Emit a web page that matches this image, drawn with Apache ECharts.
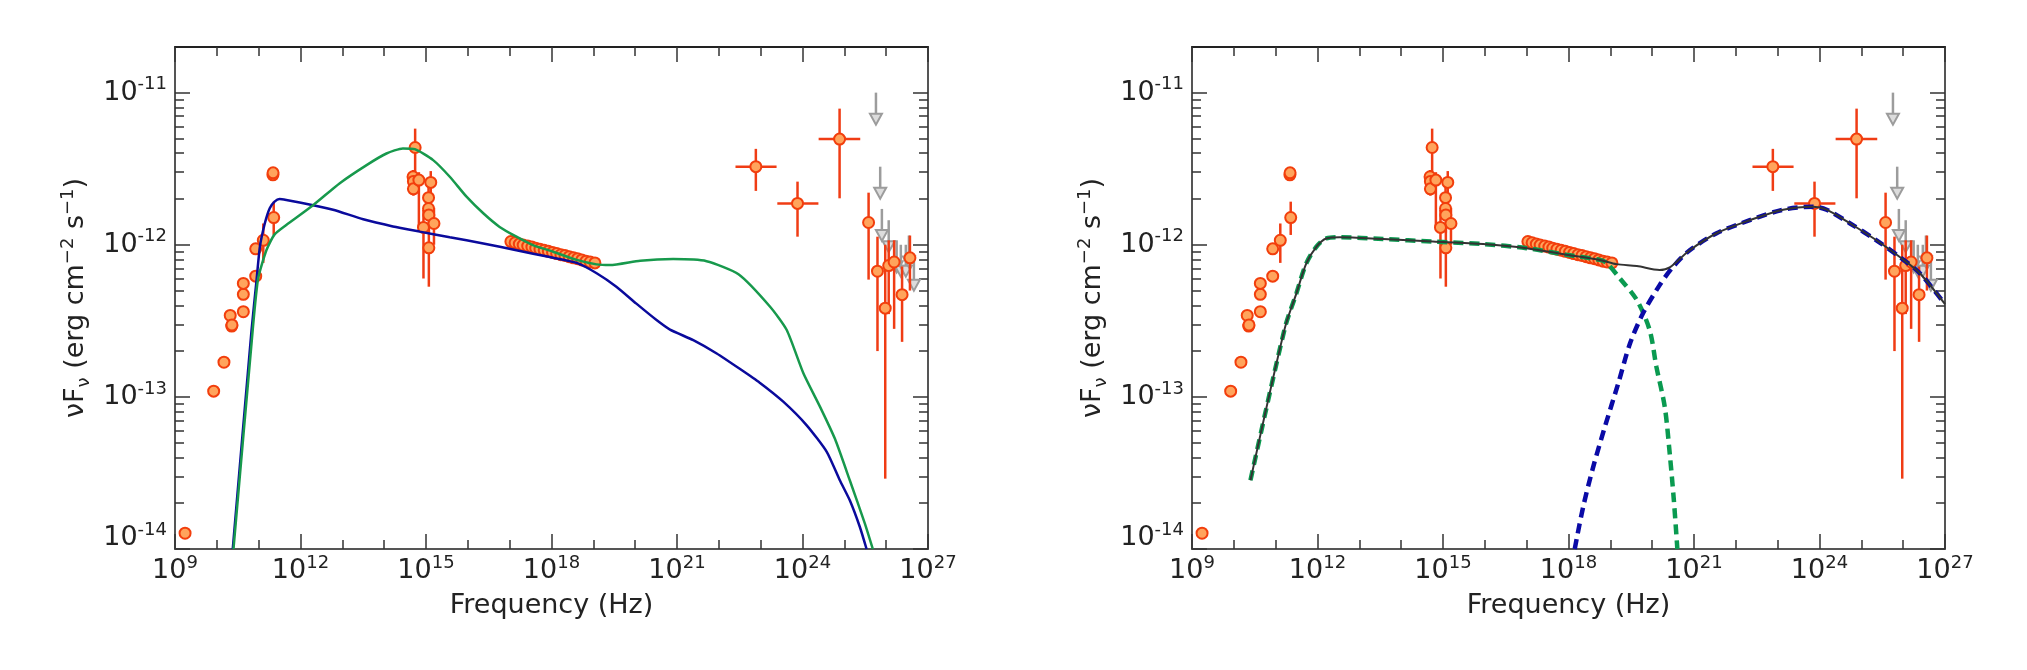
<!DOCTYPE html>
<html><head><meta charset="utf-8">
<script src="https://cdn.jsdelivr.net/npm/echarts@6/dist/echarts.min.js"></script>
<style>html,body{margin:0;padding:0;background:#fff}#c{width:2027px;height:670px}</style>
</head><body><div id="c"></div>
<script>
// ---------------- DATA ----------------
const xTickExponents = [9, 12, 15, 18, 21, 24, 27];
const yTickExponents = [-14, -13, -12, -11];

// radio / mm / IR points
const radioNu  = [1.74e9, 8.4e9, 1.48e10, 2.09e10, 2.27e10, 2.3e10, 4.3e10, 4.3e10, 4.3e10, 8.5e10, 8.5e10, 1.29e11, 2.29e11, 2.19e11, 2.21e11];
const radioF   = [1.27e-14, 1.09e-13, 1.69e-13, 3.43e-13, 2.92e-13, 2.97e-13, 3.63e-13, 4.72e-13, 5.57e-13, 6.22e-13, 9.4e-13, 1.07e-12, 1.51e-12, 2.88e-12, 2.97e-12];
const radioFlo = [1.17e-14, 1.01e-13, 1.57e-13, 3.2e-13, 2.72e-13, 2.77e-13, 3.38e-13, 4.4e-13, 5.2e-13, 5.8e-13, 8.8e-13, 7.6e-13, 1.16e-12, 2.7e-12, 2.8e-12];
const radioFhi = [1.38e-14, 1.17e-13, 1.82e-13, 3.68e-13, 3.13e-13, 3.18e-13, 3.9e-13, 5.05e-13, 5.95e-13, 6.65e-13, 1.0e-12, 1.38e-12, 1.92e-12, 3.07e-12, 3.15e-12];

// optical / UV points
const optNu  = [5.5e14, 4.9e14, 5.0e14, 5.0e14, 6.76e14, 1.30e15, 1.15e15, 1.15e15, 1.17e15, 1.55e15, 8.7e14, 1.17e15];
const optF   = [4.36e-12, 2.8e-12, 2.61e-12, 2.33e-12, 2.66e-12, 2.57e-12, 2.04e-12, 1.73e-12, 1.57e-12, 1.38e-12, 1.30e-12, 9.55e-13];
const optFlo = [2.4e-12, 2.5e-12, 2.35e-12, 2.1e-12, 1.3e-12, 1.9e-12, 1.7e-12, 1.45e-12, 1.2e-12, 1.0e-12, 6.0e-13, 5.3e-13];
const optFhi = [5.8e-12, 3.1e-12, 2.9e-12, 2.6e-12, 3.0e-12, 3.05e-12, 2.45e-12, 2.05e-12, 1.9e-12, 1.75e-12, 1.7e-12, 1.3e-12];

// X-ray spectrum points
const xrayNu  = [1.07e17, 1.35e17, 1.7e17, 2.1e17, 2.7e17, 3.4e17, 4.2e17, 5.3e17, 6.7e17, 8.4e17, 1.06e18, 1.33e18, 1.68e18, 2.1e18, 2.65e18, 3.35e18, 4.2e18, 5.3e18, 6.7e18, 8.4e18, 1.09e19];
const xrayF   = [1.05e-12, 1.03e-12, 1.01e-12, 9.95e-13, 9.8e-13, 9.65e-13, 9.5e-13, 9.35e-13, 9.2e-13, 9.05e-13, 8.9e-13, 8.75e-13, 8.6e-13, 8.5e-13, 8.35e-13, 8.2e-13, 8.1e-13, 7.95e-13, 7.8e-13, 7.7e-13, 7.6e-13];
const xrayFlo = [null, null, null, null, null, null, null, null, null, null, null, null, null, null, 7.8e-13, 7.65e-13, 7.55e-13, 7.4e-13, 7.25e-13, 7.15e-13, 7.05e-13];
const xrayFhi = [null, null, null, null, null, null, null, null, null, null, null, null, null, null, 8.9e-13, 8.75e-13, 8.65e-13, 8.5e-13, 8.35e-13, 8.25e-13, 8.15e-13];

// GeV points (with frequency bins)
const fermiNu   = [7.67e22, 7.6e23, 7.7e24];
const fermiNuLo = [2.5e22, 2.5e23, 2.43e24];
const fermiNuHi = [2.4e23, 2.4e24, 2.4e25];
const fermiF    = [3.26e-12, 1.87e-12, 4.95e-12];
const fermiFlo  = [2.26e-12, 1.13e-12, 2.02e-12];
const fermiFhi  = [4.27e-12, 2.6e-12, 7.85e-12];

// TeV points
const tevNu  = [3.8e25, 6.2e25, 9.5e25, 1.15e26, 1.55e26, 2.4e26, 3.7e26];
const tevF   = [1.40e-12, 6.7e-13, 3.83e-13, 7.3e-13, 7.7e-13, 4.7e-13, 8.2e-13];
const tevFlo = [5.9e-13, 2.0e-13, 2.9e-14, 3.5e-13, 2.8e-13, 2.3e-13, 5.0e-13];
const tevFhi = [2.2e-12, 1.13e-12, 1.0e-12, 1.07e-12, 1.07e-12, 7.2e-13, 1.15e-12];

// TeV upper limits
const ulNu = [5.7e25, 7.2e25, 7.9e25, 1.15e26, 1.78e26, 2.24e26, 2.95e26, 3.5e26, 4.6e26];
const ulF  = [1.0e-11, 3.26e-12, 1.72e-12, 1.45e-12, 1.07e-12, 1.0e-12, 1.0e-12, 1.15e-12, 8.1e-13];

// left panel models
const blueNu = [2.4e10, 6.76e10, 8.9e10, 1.07e11, 1.40e11, 1.84e11, 2.40e11, 3.16e11, 4.57e11, 2.0e12, 6.0e12, 3.16e13, 1.62e14, 7.1e14, 3.7e15, 2.34e16, 1.45e17, 9.1e17, 4.0e18, 1.2e19, 3.55e19, 1.07e20, 3.24e20, 6.8e20, 2.45e21, 8.9e21, 3.16e22, 9.5e22, 3.47e23, 1.26e24, 3.8e24, 7.8e24, 1.35e25, 2.34e25, 3.4e25];
const blueF  = [1.0e-14, 2.75e-13, 5.86e-13, 9.7e-13, 1.38e-12, 1.74e-12, 1.92e-12, 2.0e-12, 1.97e-12, 1.82e-12, 1.70e-12, 1.47e-12, 1.32e-12, 1.22e-12, 1.12e-12, 1.02e-12, 9.2e-13, 8.3e-13, 7.6e-13, 6.5e-13, 5.3e-13, 4.1e-13, 3.2e-13, 2.77e-13, 2.36e-13, 1.93e-13, 1.53e-13, 1.24e-13, 9.3e-14, 6.5e-14, 4.35e-14, 2.83e-14, 2.09e-14, 1.40e-14, 1.0e-14];
const greenNu = [2.5e10, 7.2e10, 9.7e10, 1.53e11, 2.4e11, 4.57e11, 2.0e12, 8.7e12, 3.8e13, 1.135e14, 2.8e14, 5.4e14, 1.48e15, 3.7e15, 9.3e15, 2.34e16, 5.75e16, 1.45e17, 3.6e17, 1.1e18, 4.0e18, 1.2e19, 2.5e19, 1.32e20, 8.1e20, 5.1e21, 2.95e22, 1.7e23, 4.2e23, 1.05e24, 2.63e24, 5.96e24, 1.35e25, 3.1e25, 4.8e25];
const greenF  = [1.0e-14, 2.75e-13, 6.0e-13, 9.2e-13, 1.17e-12, 1.35e-12, 1.82e-12, 2.54e-12, 3.34e-12, 3.98e-12, 4.3e-12, 4.25e-12, 3.6e-12, 2.8e-12, 2.07e-12, 1.61e-12, 1.31e-12, 1.13e-12, 9.95e-13, 9.0e-13, 7.95e-13, 7.43e-13, 7.35e-13, 7.85e-13, 8.05e-13, 7.8e-13, 6.4e-13, 3.9e-13, 2.75e-13, 1.43e-13, 8.6e-14, 5.3e-14, 2.83e-14, 1.47e-14, 1.0e-14];

// right panel models
const totalNu = [2.5e10, 1.65e11, 3.13e11, 5.4e11, 9.4e11, 1.62e12, 3.4e12, 3.7e13, 5.75e14, 9.1e15, 9.9e16, 8.9e17, 5.6e18, 1.41e19, 4.3e19, 1.51e20, 2.63e20, 7.9e20, 3.47e21, 2.16e22, 1.35e23, 7.1e23, 1.48e24, 5.4e24, 2.3e25, 8.3e25, 2.5e26, 1e27];
const totalF  = [2.83e-14, 2.82e-13, 4.79e-13, 7.55e-13, 9.7e-13, 1.10e-12, 1.12e-12, 1.09e-12, 1.05e-12, 1.01e-12, 9.5e-13, 8.6e-13, 7.95e-13, 7.46e-13, 7.24e-13, 6.82e-13, 7.1e-13, 9.2e-13, 1.19e-12, 1.45e-12, 1.70e-12, 1.78e-12, 1.70e-12, 1.38e-12, 1.07e-12, 8.3e-13, 6.5e-13, 4.07e-13];
const syncNu = [2.5e10, 1.65e11, 3.13e11, 5.4e11, 9.4e11, 1.62e12, 3.4e12, 3.7e13, 5.75e14, 9.1e15, 9.9e16, 8.9e17, 5.6e18, 8.1e18, 1.7e19, 4.3e19, 8.7e19, 1.26e20, 2.0e20, 2.63e20, 3.3e20, 4.0e20];
const syncF  = [2.83e-14, 2.82e-13, 4.79e-13, 7.55e-13, 9.7e-13, 1.10e-12, 1.12e-12, 1.09e-12, 1.05e-12, 1.01e-12, 9.5e-13, 8.6e-13, 7.95e-13, 7.6e-13, 6.0e-13, 4.33e-13, 2.75e-13, 1.58e-13, 8.6e-14, 4.24e-14, 2.09e-14, 1.0e-14];
const icNu = [1.41e18, 2.24e18, 3.9e18, 7.4e18, 1.55e19, 2.95e19, 6.0e19, 1.51e20, 3.16e20, 7.9e20, 3.47e21, 2.16e22, 1.35e23, 7.1e23, 1.48e24, 5.4e24, 2.3e25, 8.3e25, 2.5e26, 1e27];
const icF  = [1.0e-14, 1.89e-14, 3.47e-14, 6.35e-14, 1.23e-13, 2.24e-13, 3.53e-13, 5.43e-13, 7.16e-13, 9.2e-13, 1.19e-12, 1.45e-12, 1.70e-12, 1.78e-12, 1.70e-12, 1.38e-12, 1.07e-12, 8.3e-13, 6.5e-13, 4.07e-13];

// ---------------- BUILD ----------------
const L = Math.log10;
const FONT = 'DejaVu Sans';
const TXT = '#222';
const pairs = (a, b) => a.map((v, i) => [L(v), L(b[i])]);

const yMinor = [];
yTickExponents.forEach(n => { for (let k = 2; k <= 9; k++) { const v = n + L(k); if (v < -10.7) yMinor.push(v); } });

const gridL = { left: 175, top: 47, width: 753, height: 502 };
const gridR = { left: 1192, top: 47, width: 753, height: 502 };

const axisLineStyle = { color: '#555', width: 2 };
const tickStyle = { color: '#333', width: 1.5 };
const richLabel = {
  b: { fontFamily: FONT, fontSize: 27, lineHeight: 34, color: TXT },
  s: { fontFamily: FONT, fontSize: 18, lineHeight: 18, verticalAlign: 'top', color: TXT },
  b2: { fontFamily: FONT, fontSize: 27, lineHeight: 34, padding: [0, 0, 22, 0], color: TXT },
  s2: { fontFamily: FONT, fontSize: 18, lineHeight: 18, padding: [0, 0, 38, 0], color: TXT }
};
const yName = '{t|\u03BDF}{sub|\u03BD}{t| (erg cm}{sup|\u22122}{t| s}{sup|\u22121}{t|)}';
const yNameRich = {
  t: { fontFamily: FONT, fontSize: 27, lineHeight: 34, color: TXT },
  sub: { fontFamily: FONT, fontSize: 18, lineHeight: 22, verticalAlign: 'bottom', color: TXT },
  sup: { fontFamily: FONT, fontSize: 18, lineHeight: 18, verticalAlign: 'top', color: TXT }
};

function makeX(gi) {
  const common = {
    gridIndex: gi, type: 'value', min: 9, max: 27, interval: 3,
    splitLine: { show: false },
    axisLine: { show: true, onZero: false, lineStyle: axisLineStyle },
    axisTick: { show: true, inside: true, length: 15, lineStyle: tickStyle },
    minorTick: { show: true, splitNumber: 3, length: 9, lineStyle: tickStyle }
  };
  return [
    Object.assign({}, common, {
      position: 'bottom',
      axisLabel: { show: true, margin: 5, formatter: v => '{b|10}{s|' + v + '}', rich: richLabel },
      name: 'Frequency (Hz)', nameLocation: 'middle', nameGap: 37,
      nameTextStyle: { fontFamily: FONT, fontSize: 27, lineHeight: 34, color: TXT }
    }),
    Object.assign({}, common, { position: 'top', axisLabel: { show: false }, axisLine: { show: true, onZero: false, lineStyle: { color: '#222', width: 2 } } })
  ];
}
function makeY(gi) {
  const common = {
    gridIndex: gi, type: 'value', min: -14, max: -10.7, interval: 1,
    splitLine: { show: false },
    axisLine: { show: true, onZero: false, lineStyle: axisLineStyle }
  };
  return [
    Object.assign({}, common, {
      position: 'left',
      axisTick: { show: true, inside: true, length: 15, customValues: yTickExponents, lineStyle: tickStyle },
      axisLabel: {
        show: true, margin: 8, customValues: yTickExponents,
        formatter: v => (v === yTickExponents[0] ? '{b2|10}{s2|' + v + '}' : '{b|10}{s|' + v + '}'),
        rich: richLabel
      },
      name: yName, nameLocation: 'middle', nameRotate: 90, nameGap: 82,
      nameTextStyle: { rich: yNameRich, fontFamily: FONT, fontSize: 27, color: TXT }
    }),
    Object.assign({}, common, {
      position: 'left', axisLine: { show: false },
      axisTick: { show: true, inside: true, length: 9, customValues: yMinor, lineStyle: tickStyle },
      axisLabel: { show: false }
    }),
    Object.assign({}, common, {
      position: 'right',
      axisTick: { show: true, inside: true, length: 15, customValues: yTickExponents, lineStyle: tickStyle },
      axisLabel: { show: false }
    }),
    Object.assign({}, common, {
      position: 'right', axisLine: { show: false },
      axisTick: { show: true, inside: true, length: 9, customValues: yMinor, lineStyle: tickStyle },
      axisLabel: { show: false }
    })
  ];
}

const ERR = '#f03c14';
// vertical error bars [x, lo, hi]
const vErr = [];
function addV(nu, lo, hi) { nu.forEach((n, i) => { if (lo[i] != null) vErr.push([L(n), L(lo[i]), L(hi[i])]); }); }
addV(radioNu, radioFlo, radioFhi);
addV(optNu, optFlo, optFhi);
addV(xrayNu, xrayFlo, xrayFhi);
addV(fermiNu, fermiFlo, fermiFhi);
addV(tevNu, tevFlo, tevFhi);
const hErr = fermiNu.map((n, i) => [L(fermiNuLo[i]), L(fermiNuHi[i]), L(fermiF[i])]);
const allPts = [].concat(pairs(radioNu, radioF), pairs(optNu, optF), pairs(xrayNu, xrayF), pairs(fermiNu, fermiF), pairs(tevNu, tevF));
const ulPts = pairs(ulNu, ulF);

function dataSeries(gi) {
  const xi = gi * 2, yi = gi * 4;
  return [
    {
      type: 'custom', xAxisIndex: xi, yAxisIndex: yi, z: 3, data: vErr, encode: { x: 0, y: [1, 2] },
      renderItem: (p, api) => {
        const a = api.coord([api.value(0), api.value(1)]);
        const b = api.coord([api.value(0), api.value(2)]);
        return { type: 'line', shape: { x1: a[0], y1: a[1], x2: b[0], y2: b[1] }, style: { stroke: ERR, lineWidth: 2.5 } };
      }
    },
    {
      type: 'custom', xAxisIndex: xi, yAxisIndex: yi, z: 3, data: hErr, encode: { x: [0, 1], y: 2 },
      renderItem: (p, api) => {
        const a = api.coord([api.value(0), api.value(2)]);
        const b = api.coord([api.value(1), api.value(2)]);
        return { type: 'line', shape: { x1: a[0], y1: a[1], x2: b[0], y2: b[1] }, style: { stroke: ERR, lineWidth: 2.5 } };
      }
    },
    {
      type: 'custom', xAxisIndex: xi, yAxisIndex: yi, z: 2, data: ulPts, encode: { x: 0, y: 1 },
      renderItem: (p, api) => {
        const c = api.coord([api.value(0), api.value(1)]);
        return {
          type: 'group', children: [
            { type: 'line', shape: { x1: c[0], y1: c[1], x2: c[0], y2: c[1] + 23 }, style: { stroke: '#9c9c9c', lineWidth: 2.5 } },
            { type: 'polygon', shape: { points: [[c[0] - 6, c[1] + 21], [c[0] + 6, c[1] + 21], [c[0], c[1] + 32]] }, style: { fill: '#dcdcdc', stroke: '#9c9c9c', lineWidth: 2 } }
          ]
        };
      }
    },
    {
      type: 'scatter', xAxisIndex: xi, yAxisIndex: yi, z: 4, data: allPts,
      symbol: 'circle', symbolSize: 11,
      itemStyle: { color: '#ffa45c', borderColor: '#f23e0c', borderWidth: 2, opacity: 1 }
    }
  ];
}

const lineBase = { type: 'line', showSymbol: false, symbol: 'none', clip: true, z: 5, silent: true };
const series = [].concat(
  dataSeries(0),
  [
    Object.assign({}, lineBase, { xAxisIndex: 0, yAxisIndex: 0, data: pairs(blueNu, blueF), smooth: 0.2, lineStyle: { color: '#0a0a9c', width: 2.5 } }),
    Object.assign({}, lineBase, { xAxisIndex: 0, yAxisIndex: 0, data: pairs(greenNu, greenF), smooth: 0.2, lineStyle: { color: '#17994c', width: 2.5 } })
  ],
  dataSeries(1),
  [
    Object.assign({}, lineBase, { xAxisIndex: 2, yAxisIndex: 4, data: pairs(syncNu, syncF), smooth: 0.3, lineStyle: { color: '#0a9a50', width: 4.5, type: [10, 6] } }),
    Object.assign({}, lineBase, { xAxisIndex: 2, yAxisIndex: 4, data: pairs(icNu, icF), smooth: 0.3, lineStyle: { color: '#0a0aa6', width: 4.5, type: [10, 6] } }),
    Object.assign({}, lineBase, { xAxisIndex: 2, yAxisIndex: 4, z: 6, data: pairs(totalNu, totalF), smooth: 0.3, lineStyle: { color: '#333333', width: 2 } })
  ]
);

const chart = echarts.init(document.getElementById('c'), null, { renderer: 'canvas' });
chart.setOption({
  animation: false,
  backgroundColor: '#ffffff',
  grid: [gridL, gridR],
  xAxis: [].concat(makeX(0), makeX(1)),
  yAxis: [].concat(makeY(0), makeY(1)),
  series: series
});
</script></body></html>
